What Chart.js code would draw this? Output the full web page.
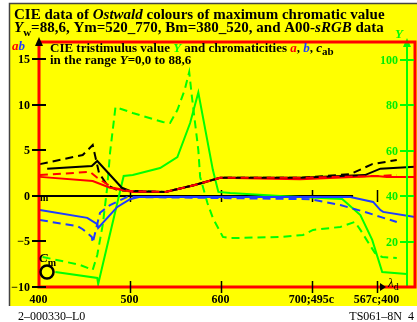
<!DOCTYPE html>
<html>
<head>
<meta charset="utf-8">
<script src="https://cdn.jsdelivr.net/npm/chart.js@4.4.1/dist/chart.umd.min.js"></script>
<style>
  html, body { margin: 0; padding: 0; background: #fff; overflow: hidden; }
</style>
</head>
<body>
<canvas id="chartOstwald" width="417" height="322"></canvas>
<script>
// x = dominant wavelength (nm); past 700 the axis runs on through complementary hues
var xTicks = [400, 500, 600, 700, 771];
var xTickLabels = ['400', '500', '600', '700;495c', '567c;400'];
var leftTicks = [-10, -5, 0, 5, 10, 15];
var leftTickLabels = ['\u221210', '\u22125', '0', '5', '10', '15'];
var rightTicks = [20, 40, 60, 80, 100];
var zeroLineEnd = 745;

// chroma c_ab
var cabSolidX = [409, 458, 464, 491, 500, 539, 571, 599, 687, 758, 775, 813];
var cabSolidY = [3.0, 3.3, 3.85, 0.9, 0.55, 0.45, 1.2, 2.0, 2.0, 2.3, 3.0, 3.2];
var cabDashX = [401, 448, 459, 466, 475, 486, 500, 539, 571, 599, 687, 742, 766, 793];
var cabDashY = [3.5, 4.5, 5.6, 2.5, 1.2, 0.65, 0.55, 0.45, 1.2, 2.0, 2.0, 2.4, 3.5, 3.95];

// a
var aSolidX = [401, 459, 478, 503, 539, 571, 599, 687, 771, 782, 813];
var aSolidY = [2.1, 1.65, 0.9, 0.45, 0.45, 1.2, 2.0, 1.85, 2.2, 2.1, 2.1];
var aDashX = [401, 456, 464, 481, 500, 539, 571, 599, 687, 771, 793];
var aDashY = [2.3, 2.65, 2.0, 0.9, 0.55, 0.45, 1.2, 2.0, 2.0, 2.2, 2.3];

// b
var bSolidX = [401, 453, 464, 465, 486, 500, 511, 742, 767, 775, 778, 813];
var bSolidY = [-1.55, -2.4, -3.1, -3.5, -1.2, -0.35, -0.1, -0.1, -0.65, -1.55, -1.75, -2.3];
var bDashX = [401, 442, 448, 458, 459, 467, 478, 497, 698, 731, 758, 775, 793];
var bDashY = [-2.65, -3.3, -3.65, -4.5, -5.15, -1.85, -1.0, -0.1, -0.35, -1.0, -1.75, -2.3, -2.85];

// tristimulus value Y (right axis)
var ySolidX = [418, 464, 465, 493, 503, 533, 552, 566, 575, 591, 597, 610, 665, 733, 753, 766, 777, 804];
var ySolidY = [6.6, 4.0, 1.3, 48.8, 49.2, 52.3, 57.1, 72.1, 85.5, 51.4, 41.8, 41.3, 40.0, 38.7, 31.6, 20.7, 6.6, 5.7];
var yDashX = [404, 445, 459, 464, 470, 475, 478, 484, 503, 536, 544, 552, 560, 565, 568, 575, 577, 585, 591, 602, 610, 665, 690, 701, 731, 747, 753, 769, 777, 793];
var yDashY = [13.2, 9.7, 7.5, 14.1, 27.3, 44.0, 58.9, 79.1, 76.5, 72.5, 72.1, 77.8, 86.6, 94.5, 83.5, 60.2, 48.4, 36.9, 30.3, 22.0, 21.5, 22.0, 22.9, 25.1, 26.4, 28.6, 25.1, 14.9, 13.2, 12.7];

var RED = '#ff0000', GREEN = '#00ff00', BLUE = '#1e3cff', BLACK = '#000000';
var SERIF = '"Liberation Serif", "DejaVu Serif", serif';

function pts(xs, ys) {
  return xs.map(function (x, i) { return { x: x, y: ys[i] }; });
}

function line(label, xs, ys, color, dashed, order, axis) {
  return {
    label: label,
    data: pts(xs, ys),
    borderColor: color,
    borderWidth: 2,
    borderDash: dashed ? [8, 5] : [],
    pointRadius: 0,
    tension: 0,
    fill: false,
    order: order,
    yAxisID: axis || 'y'
  };
}

function runs(ctx, x, y, parts) {
  parts.forEach(function (p) {
    ctx.font = p.f;
    ctx.fillStyle = p.c || BLACK;
    ctx.fillText(p.t, x, y + (p.dy || 0));
    x += ctx.measureText(p.t).width;
  });
}

var decor = {
  id: 'decor',
  beforeDraw: function (chart) {
    var ctx = chart.ctx;
    ctx.save();
    ctx.fillStyle = '#ffffff';
    ctx.fillRect(0, 0, 417, 322);
    ctx.fillStyle = '#ffff00';
    ctx.fillRect(10, 4, 407, 302);
    ctx.strokeStyle = '#444';
    ctx.lineWidth = 1.5;
    ctx.beginPath();
    ctx.moveTo(9.5, 306); ctx.lineTo(9.5, 3.5); ctx.lineTo(417, 3.5);
    ctx.stroke();
    ctx.restore();
  },
  beforeDatasetsDraw: function (chart) {
    var ctx = chart.ctx, sx = chart.scales.x, sy = chart.scales.y;
    var y0 = sy.getPixelForValue(0);
    ctx.save();
    ctx.strokeStyle = BLACK;
    ctx.lineWidth = 2;
    ctx.beginPath();
    ctx.moveTo(sx.getPixelForValue(400), y0);
    ctx.lineTo(sx.getPixelForValue(zeroLineEnd), y0);
    ctx.stroke();
    ctx.lineWidth = 1.5;
    xTicks.slice(1).forEach(function (v) {
      var px = Math.round(sx.getPixelForValue(v)) + 0.5;
      ctx.beginPath(); ctx.moveTo(px, y0 - 6); ctx.lineTo(px, y0 + 6); ctx.stroke();
    });
    ctx.restore();
  },
  afterDatasetsDraw: function (chart) {
    var ctx = chart.ctx, a = chart.chartArea;
    var sx = chart.scales.x, sy = chart.scales.y, sy2 = chart.scales.y2;
    ctx.save();

    // right Y axis (green) with arrow
    var gx = 407;
    ctx.strokeStyle = GREEN; ctx.fillStyle = GREEN; ctx.lineWidth = 2;
    ctx.beginPath(); ctx.moveTo(gx, a.bottom); ctx.lineTo(gx, 44); ctx.stroke();
    ctx.beginPath(); ctx.moveTo(gx, 38); ctx.lineTo(gx - 4, 47); ctx.lineTo(gx + 4, 47); ctx.closePath(); ctx.fill();

    // red frame
    ctx.strokeStyle = RED; ctx.lineWidth = 3;
    ctx.strokeRect(a.left, a.top, a.right - a.left, a.bottom - a.top);

    // left axis arrow
    ctx.fillStyle = BLACK;
    ctx.beginPath(); ctx.moveTo(a.left, 37); ctx.lineTo(a.left - 4, 46); ctx.lineTo(a.left + 4, 46); ctx.closePath(); ctx.fill();

    // left ticks
    ctx.strokeStyle = BLACK; ctx.lineWidth = 2;
    ctx.font = 'bold 12px ' + SERIF; ctx.textAlign = 'right'; ctx.textBaseline = 'middle';
    leftTicks.forEach(function (v, i) {
      var py = Math.round(sy.getPixelForValue(v));
      ctx.beginPath(); ctx.moveTo(a.left - 7, py); ctx.lineTo(a.left + 7, py); ctx.stroke();
      ctx.fillText(leftTickLabels[i], a.left - 9, py + 1);
    });

    // right ticks
    ctx.strokeStyle = GREEN; ctx.fillStyle = '#00ee00';
    rightTicks.forEach(function (v) {
      var py = Math.round(sy2.getPixelForValue(v));
      ctx.beginPath(); ctx.moveTo(gx - 7, py); ctx.lineTo(gx + 7, py); ctx.stroke();
      ctx.fillText(String(v), gx - 9, py + 1);
    });

    // bottom ticks
    ctx.strokeStyle = BLACK; ctx.fillStyle = BLACK; ctx.lineWidth = 1.5;
    ctx.textAlign = 'center'; ctx.textBaseline = 'alphabetic';
    xTicks.forEach(function (v, i) {
      var px = Math.round(sx.getPixelForValue(v)) + 0.5;
      if (i > 0) {
        ctx.beginPath(); ctx.moveTo(px, a.bottom - 6); ctx.lineTo(px, a.bottom + 6); ctx.stroke();
      }
      ctx.fillText(xTickLabels[i], px - 1, 303);
    });

    // lambda_d arrow
    ctx.beginPath(); ctx.moveTo(380, a.bottom - 4); ctx.lineTo(386, a.bottom); ctx.lineTo(380, a.bottom + 4); ctx.closePath(); ctx.fill();
    ctx.textAlign = 'left';
    runs(ctx, 388, 287, [
      { t: '\u03bb', f: 'italic 13px ' + SERIF },
      { t: 'd', f: '10px ' + SERIF, dy: 3 }
    ]);

    // titles
    var B15 = 'bold 15px ' + SERIF, BI15 = 'bold italic 15px ' + SERIF;
    runs(ctx, 14, 19, [
      { t: 'CIE data of ', f: B15 },
      { t: 'Ostwald', f: BI15 },
      { t: ' colours of maximum chromatic value', f: B15 }
    ]);
    runs(ctx, 14, 32, [
      { t: 'Y', f: BI15 },
      { t: 'w', f: 'bold 11px ' + SERIF, dy: 4 },
      { t: '=88,6, Ym=520_770, Bm=380_520, and A00-', f: B15 },
      { t: 'sRGB', f: BI15 },
      { t: ' data', f: B15 }
    ]);

    var B13 = 'bold 13px ' + SERIF, BI13 = 'bold italic 13px ' + SERIF;
    runs(ctx, 50, 52, [
      { t: 'CIE tristimulus value ', f: B13 },
      { t: 'Y', f: BI13, c: GREEN },
      { t: ' and chromaticities ', f: B13 },
      { t: 'a', f: BI13, c: RED },
      { t: ', ', f: B13 },
      { t: 'b', f: BI13, c: BLUE },
      { t: ', ', f: B13 },
      { t: 'c', f: BI13 },
      { t: 'ab', f: 'bold 11px ' + SERIF, dy: 3 }
    ]);
    runs(ctx, 50, 64, [
      { t: 'in the range ', f: B13 },
      { t: 'Y', f: BI13 },
      { t: '=0,0 to 88,6', f: B13 }
    ]);

    // axis names
    runs(ctx, 12, 50, [
      { t: 'a', f: BI13, c: RED },
      { t: 'b', f: BI13, c: BLUE }
    ]);
    runs(ctx, 395, 38, [{ t: 'Y', f: BI13, c: GREEN }]);

    // markers m, C_m and circle
    runs(ctx, 40, 201, [{ t: 'm', f: 'bold 10px ' + SERIF }]);
    runs(ctx, 39, 262, [
      { t: 'C', f: BI13 },
      { t: 'm', f: 'bold 10px ' + SERIF, dy: 4 }
    ]);
    ctx.strokeStyle = BLACK; ctx.lineWidth = 2.5;
    ctx.beginPath(); ctx.arc(47, 272, 6.5, 0, Math.PI * 2); ctx.stroke();

    // footer
    ctx.fillStyle = BLACK;
    runs(ctx, 18, 320, [{ t: '2\u2013000330\u2013L0', f: '12px ' + SERIF }]);
    ctx.textAlign = 'right';
    ctx.font = '12px ' + SERIF;
    ctx.fillText('TS061\u20138N  4', 414, 320);

    ctx.restore();
  }
};

var ctx = document.getElementById('chartOstwald').getContext('2d');

var chartOstwald = new Chart(ctx, {
  type: 'line',
  data: {
    datasets: [
      line('a dashed', aDashX, aDashY, RED, true, 0),
      line('cab', cabSolidX, cabSolidY, BLACK, false, 1),
      line('a', aSolidX, aSolidY, RED, false, 2),
      line('cab dashed', cabDashX, cabDashY, BLACK, true, 3),
      line('b', bSolidX, bSolidY, BLUE, false, 4),
      line('b dashed', bDashX, bDashY, BLUE, true, 5),
      line('Y', ySolidX, ySolidY, GREEN, false, 6, 'y2'),
      line('Y dashed', yDashX, yDashY, GREEN, true, 7, 'y2')
    ]
  },
  options: {
    responsive: false,
    animation: false,
    events: [],
    layout: { padding: { left: 39, top: 42, right: 2, bottom: 35 } },
    plugins: { legend: { display: false }, tooltip: { enabled: false } },
    scales: {
      x: { type: 'linear', min: 400, max: 813, display: false },
      y: { type: 'linear', min: -10, max: 16.92, display: false },
      y2: { type: 'linear', position: 'right', min: 0, max: 107.7, display: false }
    }
  },
  plugins: [decor]
});
</script>
</body>
</html>
